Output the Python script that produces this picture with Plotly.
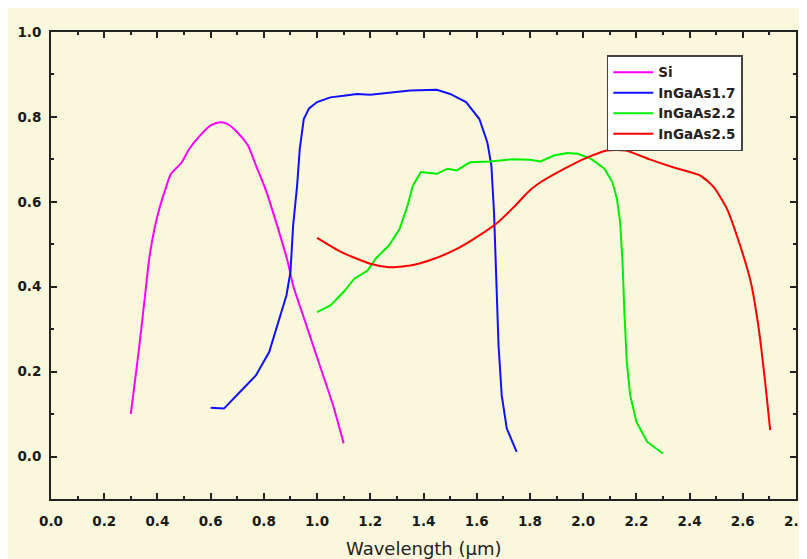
import plotly.graph_objects as go

# ---- data ----
si_x = [0.30, 0.31, 0.33, 0.35, 0.37, 0.39, 0.41, 0.43, 0.45, 0.49, 0.52, 0.56, 0.60, 0.63,
        0.66, 0.70, 0.74, 0.77, 0.81, 0.85, 0.89, 0.91, 0.96, 1.01, 1.06, 1.10]
si_y = [0.100, 0.150, 0.250, 0.360, 0.470, 0.540, 0.590, 0.630, 0.665, 0.692, 0.725, 0.756, 0.780, 0.787,
        0.784, 0.764, 0.733, 0.686, 0.623, 0.544, 0.458, 0.403, 0.309, 0.215, 0.121, 0.031]

g17_x = [0.60, 0.65, 0.71, 0.77, 0.82, 0.86, 0.885, 0.90, 0.91, 0.925, 0.935, 0.95, 0.97, 1.00,
         1.05, 1.10, 1.15, 1.20, 1.27, 1.35, 1.45, 1.50, 1.56, 1.61, 1.64, 1.655, 1.665, 1.673,
         1.682, 1.694, 1.713, 1.75]
g17_y = [0.115, 0.113, 0.152, 0.191, 0.246, 0.325, 0.380, 0.435, 0.544, 0.638, 0.725, 0.795, 0.820, 0.835,
         0.846, 0.850, 0.854, 0.852, 0.856, 0.862, 0.864, 0.854, 0.835, 0.795, 0.740, 0.686, 0.576, 0.419,
         0.262, 0.144, 0.066, 0.011]

g22_x = [1.00, 1.05, 1.10, 1.14, 1.19, 1.22, 1.27, 1.31, 1.34, 1.36, 1.39, 1.45, 1.49, 1.525, 1.575,
         1.65, 1.73, 1.80, 1.84, 1.89, 1.94, 1.98, 2.03, 2.08, 2.11, 2.127, 2.139, 2.148, 2.155, 2.164,
         2.177, 2.20, 2.24, 2.30]
g22_y = [0.340, 0.356, 0.388, 0.419, 0.438, 0.466, 0.497, 0.536, 0.591, 0.638, 0.670, 0.666, 0.678, 0.674, 0.693,
         0.695, 0.700, 0.699, 0.695, 0.709, 0.715, 0.713, 0.701, 0.678, 0.646, 0.607, 0.552, 0.458, 0.340, 0.223,
         0.144, 0.082, 0.035, 0.007]

g25_x = [1.00, 1.09, 1.20, 1.27, 1.35, 1.44, 1.525, 1.61, 1.68, 1.74, 1.80, 1.83, 1.93, 2.01, 2.09,
         2.16, 2.25, 2.35, 2.44, 2.49, 2.54, 2.59, 2.63, 2.66, 2.684, 2.703]
g25_y = [0.515, 0.482, 0.454, 0.446, 0.450, 0.466, 0.489, 0.521, 0.552, 0.588, 0.627, 0.642, 0.678, 0.703, 0.721,
         0.721, 0.700, 0.679, 0.662, 0.635, 0.584, 0.497, 0.411, 0.301, 0.176, 0.062]

series_names = ["Si", "InGaAs1.7", "InGaAs2.2", "InGaAs2.5"]
series_colors = ["#FF00FF", "#1010FF", "#00F000", "#FF0000"]
series_shapes = ["spline", "linear", "linear", "spline"]
x_ticks = [0.0, 0.2, 0.4, 0.6, 0.8, 1.0, 1.2, 1.4, 1.6, 1.8, 2.0, 2.2, 2.4, 2.6, 2.8]
y_ticks = [0.0, 0.2, 0.4, 0.6, 0.8, 1.0]

BG = "#FAF8DC"
AX = "#222222"
FONT = "DejaVu Sans, Arial"

fig = go.Figure()
for name, xs, ys, col, shp in zip(series_names, [si_x, g17_x, g22_x, g25_x],
                                  [si_y, g17_y, g22_y, g25_y], series_colors, series_shapes):
    line = dict(color=col, width=2, shape=shp)
    if shp == "spline":
        line["smoothing"] = 0.6
    fig.add_trace(go.Scatter(x=xs, y=ys, mode="lines", name=name, line=line))

axis_common = dict(
    showline=True, linecolor=AX, linewidth=2, mirror="ticks",
    ticks="inside", ticklen=6, tickwidth=1.5, tickcolor=AX,
    showgrid=False, zeroline=False, automargin=False,
    tickfont=dict(family=FONT, size=13.5, color="#1a1a1a", weight="bold"),
)

fig.update_xaxes(range=[0, 2.8], tickvals=x_ticks, tickformat=".1f",
                 minor=dict(dtick=0.1, ticks="inside", ticklen=3, tickcolor=AX, tickwidth=1.5, showgrid=False),
                 ticklabelstandoff=9, **axis_common)
fig.update_yaxes(range=[-0.1, 1.0], tickvals=y_ticks, tickformat=".1f",
                 minor=dict(dtick=0.1, ticks="inside", ticklen=3, tickcolor=AX, tickwidth=1.5, showgrid=False),
                 ticklabelstandoff=5, **axis_common)

fig.update_layout(
    width=807, height=559,
    margin=dict(l=43, r=19, t=24, b=68),
    paper_bgcolor=BG, plot_bgcolor=BG,
    showlegend=True,
    legend=dict(x=0.746, y=0.95, xanchor="left", yanchor="top",
                bgcolor="white", bordercolor="#444444", borderwidth=1.5,
                font=dict(family=FONT, size=13.5, color="#222222", weight="bold"),
                tracegroupgap=0, itemwidth=40),
    annotations=[dict(text="Wavelength (µm)", xref="paper", yref="paper",
                      x=0.5, y=-0.105, xanchor="center", yanchor="middle", showarrow=False,
                      font=dict(family=FONT, size=18, color="#222222"))],
)

fig.write_html("out.html")
